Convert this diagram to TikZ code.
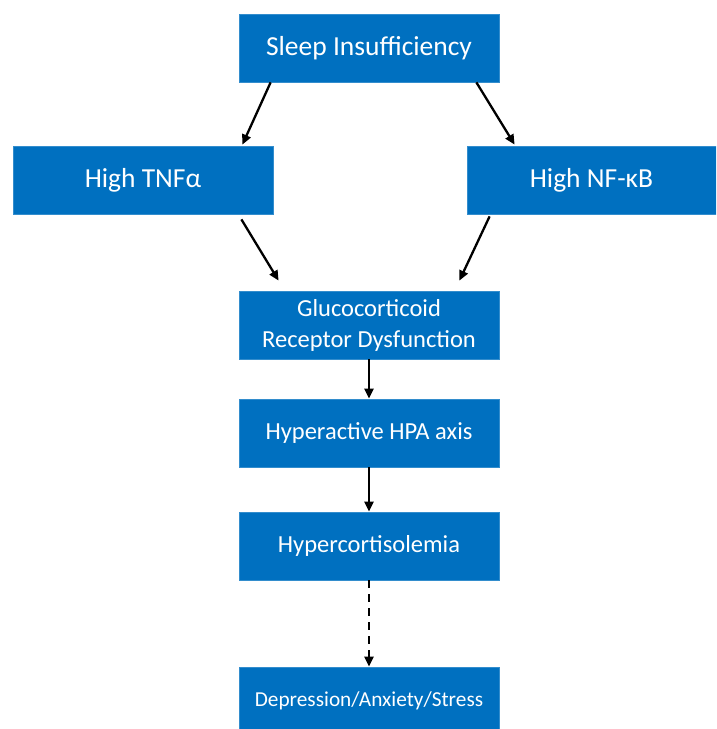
\documentclass[tikz,border=0pt]{standalone}
\usepackage{fontspec}
\setmainfont{Carlito}
\usetikzlibrary{arrows.meta}
\definecolor{boxblue}{HTML}{0070C0}
\tikzset{
  box/.style={fill=boxblue, draw=boxblue!80!white, line width=0.8pt, text=white,
    minimum width=260pt, minimum height=68pt, inner sep=2pt, align=center},
  big/.style={font=\fontsize{27.5}{33}\selectfont},
  mid/.style={font=\fontsize{24.5}{31}\selectfont},
  small/.style={font=\fontsize{21.3}{25}\selectfont},
  arr/.style={line width=2.3pt, -{Triangle[length=10pt,width=9pt]}},
  darr/.style={arr, dash pattern=on 8pt off 6pt},
}
\begin{document}
\begin{tikzpicture}[x=1pt,y=-1pt]
\clip (0,0) rectangle (716,729);
\fill[white] (0,0) rectangle (716,729);
\node[box,big] (si) at (369,48) {Sleep Insufficiency};
\node[box,big] (tnf) at (143,180) {High TNFα};
\node[box,big,minimum width=249pt] (nf) at (591.5,180) {High NF-κB};
\node[box,mid] (gr) at (369,325) {Glucocorticoid\\Receptor Dysfunction};
\node[box,mid] (hpa) at (369,433) {Hyperactive HPA axis};
\node[box,mid] (hc) at (369,546) {Hypercortisolemia};
\node[box,small] (dep) at (369,701) {Depression/Anxiety/Stress};
\draw[arr] ([xshift=32pt]si.south west) -- ([xshift=-31pt,yshift=1pt]tnf.north east);
\draw[arr] ([xshift=-23pt]si.south east) -- ([xshift=48pt,yshift=1pt]nf.north west);
\draw[arr] ([xshift=-32pt,yshift=-5pt]tnf.south east) -- ([xshift=40pt,yshift=10pt]gr.north west);
\draw[arr] ([xshift=23pt,yshift=-2pt]nf.south west) -- ([xshift=-40pt,yshift=10pt]gr.north east);
\draw[arr] (gr.south) -- (hpa.north);
\draw[arr] (hpa.south) -- (hc.north);
\draw[darr] (hc.south) -- (dep.north);
\end{tikzpicture}
\end{document}
